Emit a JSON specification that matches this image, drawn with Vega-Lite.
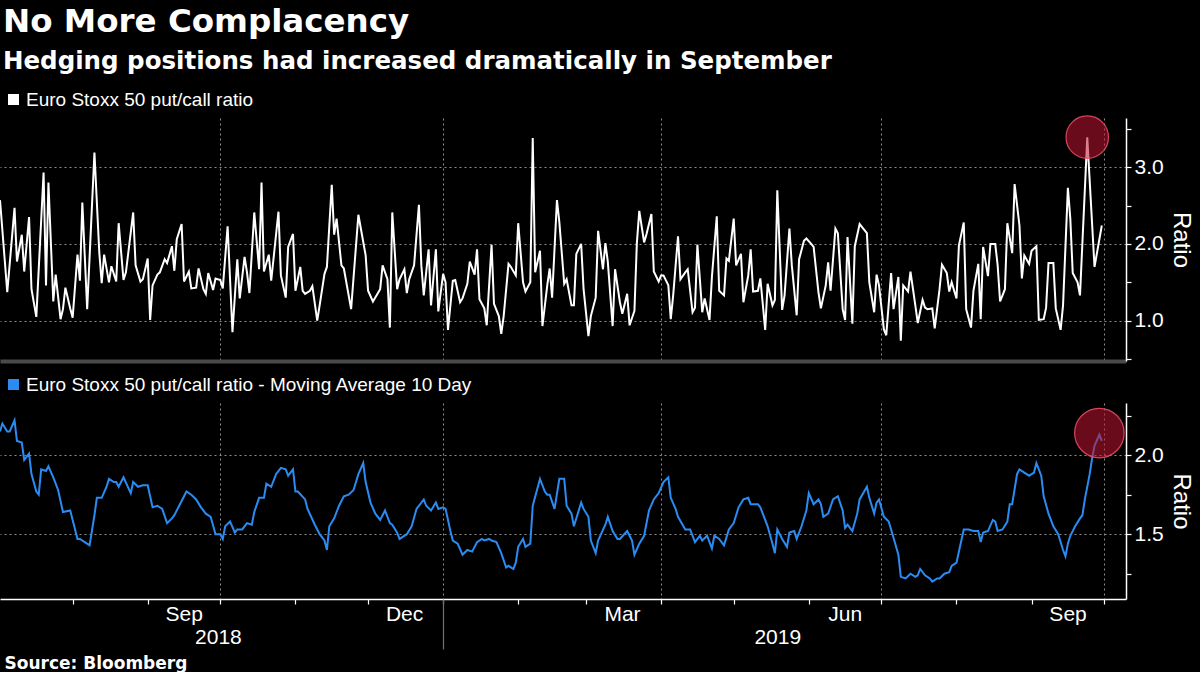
{
"$schema": "https://vega.github.io/schema/vega-lite/v6.json",
"background": "#000000",
"padding": {"left": -4, "right": 7, "top": 6, "bottom": 0},
"title": {"text": "No More Complacency", "subtitle": "Hedging positions had increased dramatically in September", "anchor": "start", "frame": "group", "font": "DejaVu Sans", "fontSize": 32.5, "fontWeight": "bold", "color": "#ffffff", "subtitleFont": "DejaVu Sans", "subtitleFontSize": 24.5, "subtitleFontWeight": "bold", "subtitleColor": "#ffffff", "subtitlePadding": 11, "offset": 17, "dx": 3},
"datasets": {
"pc": [
{"date":"2018-07-02","ratio":2.57},{"date":"2018-07-05","ratio":1.37},{"date":"2018-07-08","ratio":2.47},{"date":"2018-07-09","ratio":1.77},{"date":"2018-07-11","ratio":2.12},{"date":"2018-07-12","ratio":1.64},{"date":"2018-07-14","ratio":2.35},{"date":"2018-07-15","ratio":1.41},{"date":"2018-07-17","ratio":1.05},{"date":"2018-07-20","ratio":2.93},{"date":"2018-07-21","ratio":1.46},{"date":"2018-07-22","ratio":2.80},{"date":"2018-07-24","ratio":1.25},{"date":"2018-07-25","ratio":1.60},{"date":"2018-07-27","ratio":1.02},{"date":"2018-07-28","ratio":1.15},{"date":"2018-07-29","ratio":1.43},{"date":"2018-07-31","ratio":1.16},
{"date":"2018-08-01","ratio":1.04},{"date":"2018-08-03","ratio":1.86},{"date":"2018-08-04","ratio":1.52},{"date":"2018-08-05","ratio":2.54},{"date":"2018-08-07","ratio":1.15},{"date":"2018-08-10","ratio":3.19},{"date":"2018-08-12","ratio":1.89},{"date":"2018-08-13","ratio":1.49},{"date":"2018-08-14","ratio":1.86},{"date":"2018-08-16","ratio":1.50},{"date":"2018-08-17","ratio":1.71},{"date":"2018-08-19","ratio":1.51},{"date":"2018-08-20","ratio":2.27},{"date":"2018-08-22","ratio":1.53},{"date":"2018-08-23","ratio":1.63},{"date":"2018-08-26","ratio":2.41},{"date":"2018-08-27","ratio":1.72},{"date":"2018-08-29","ratio":1.51},{"date":"2018-08-30","ratio":1.54},
{"date":"2018-09-01","ratio":1.81},{"date":"2018-09-02","ratio":1.01},{"date":"2018-09-03","ratio":1.46},{"date":"2018-09-05","ratio":1.60},{"date":"2018-09-06","ratio":1.63},{"date":"2018-09-08","ratio":1.80},{"date":"2018-09-09","ratio":1.75},{"date":"2018-09-11","ratio":1.97},{"date":"2018-09-12","ratio":1.65},{"date":"2018-09-13","ratio":2.06},{"date":"2018-09-15","ratio":2.26},{"date":"2018-09-16","ratio":1.51},{"date":"2018-09-18","ratio":1.64},{"date":"2018-09-19","ratio":1.42},{"date":"2018-09-21","ratio":1.43},{"date":"2018-09-22","ratio":1.68},{"date":"2018-09-24","ratio":1.41},{"date":"2018-09-25","ratio":1.35},{"date":"2018-09-26","ratio":1.62},{"date":"2018-09-28","ratio":1.40},{"date":"2018-09-29","ratio":1.55},
{"date":"2018-10-01","ratio":1.53},{"date":"2018-10-02","ratio":1.42},{"date":"2018-10-04","ratio":2.23},{"date":"2018-10-06","ratio":0.85},{"date":"2018-10-08","ratio":1.80},{"date":"2018-10-09","ratio":1.29},{"date":"2018-10-11","ratio":1.83},{"date":"2018-10-12","ratio":1.63},{"date":"2018-10-13","ratio":1.36},{"date":"2018-10-15","ratio":2.41},{"date":"2018-10-17","ratio":1.67},{"date":"2018-10-18","ratio":2.80},{"date":"2018-10-19","ratio":1.64},{"date":"2018-10-21","ratio":1.86},{"date":"2018-10-22","ratio":1.52},{"date":"2018-10-25","ratio":2.42},{"date":"2018-10-26","ratio":1.59},{"date":"2018-10-28","ratio":1.30},{"date":"2018-10-29","ratio":1.96},{"date":"2018-10-31","ratio":2.13},
{"date":"2018-11-01","ratio":1.39},{"date":"2018-11-03","ratio":1.70},{"date":"2018-11-04","ratio":1.39},{"date":"2018-11-05","ratio":1.35},{"date":"2018-11-07","ratio":1.39},{"date":"2018-11-08","ratio":1.45},{"date":"2018-11-10","ratio":1.00},{"date":"2018-11-11","ratio":1.20},{"date":"2018-11-13","ratio":1.61},{"date":"2018-11-14","ratio":1.70},{"date":"2018-11-16","ratio":2.77},{"date":"2018-11-17","ratio":2.12},{"date":"2018-11-18","ratio":2.33},{"date":"2018-11-20","ratio":1.72},{"date":"2018-11-21","ratio":1.68},{"date":"2018-11-24","ratio":1.15},{"date":"2018-11-27","ratio":2.38},{"date":"2018-11-30","ratio":1.85},
{"date":"2018-12-01","ratio":1.39},{"date":"2018-12-03","ratio":1.25},{"date":"2018-12-06","ratio":1.41},{"date":"2018-12-07","ratio":1.72},{"date":"2018-12-09","ratio":1.54},{"date":"2018-12-10","ratio":0.91},{"date":"2018-12-11","ratio":2.41},{"date":"2018-12-13","ratio":1.41},{"date":"2018-12-14","ratio":1.54},{"date":"2018-12-16","ratio":1.67},{"date":"2018-12-17","ratio":1.36},{"date":"2018-12-18","ratio":1.54},{"date":"2018-12-20","ratio":1.72},{"date":"2018-12-22","ratio":2.51},{"date":"2018-12-23","ratio":1.72},{"date":"2018-12-24","ratio":1.33},{"date":"2018-12-26","ratio":1.93},{"date":"2018-12-27","ratio":1.20},{"date":"2018-12-29","ratio":1.93},{"date":"2018-12-30","ratio":1.12},
{"date":"2019-01-01","ratio":1.61},{"date":"2019-01-02","ratio":1.50},{"date":"2019-01-03","ratio":0.88},{"date":"2019-01-05","ratio":1.52},{"date":"2019-01-06","ratio":1.53},{"date":"2019-01-08","ratio":1.24},{"date":"2019-01-09","ratio":1.29},{"date":"2019-01-11","ratio":1.48},{"date":"2019-01-12","ratio":1.77},{"date":"2019-01-14","ratio":1.60},{"date":"2019-01-15","ratio":1.93},{"date":"2019-01-16","ratio":1.28},{"date":"2019-01-18","ratio":1.16},{"date":"2019-01-19","ratio":0.94},{"date":"2019-01-21","ratio":1.99},{"date":"2019-01-22","ratio":1.22},{"date":"2019-01-24","ratio":1.06},{"date":"2019-01-25","ratio":0.83},{"date":"2019-01-26","ratio":1.06},{"date":"2019-01-28","ratio":1.74},{"date":"2019-01-29","ratio":1.70},{"date":"2019-01-31","ratio":1.59},
{"date":"2019-02-01","ratio":2.27},{"date":"2019-02-03","ratio":1.50},{"date":"2019-02-04","ratio":1.38},{"date":"2019-02-06","ratio":1.50},{"date":"2019-02-07","ratio":3.38},{"date":"2019-02-08","ratio":1.63},{"date":"2019-02-10","ratio":1.91},{"date":"2019-02-11","ratio":0.93},{"date":"2019-02-13","ratio":1.46},{"date":"2019-02-14","ratio":1.68},{"date":"2019-02-15","ratio":1.30},{"date":"2019-02-17","ratio":2.57},{"date":"2019-02-18","ratio":2.28},{"date":"2019-02-20","ratio":1.48},{"date":"2019-02-21","ratio":1.54},{"date":"2019-02-23","ratio":1.20},{"date":"2019-02-24","ratio":1.20},{"date":"2019-02-25","ratio":1.87},{"date":"2019-02-27","ratio":2.00},{"date":"2019-02-28","ratio":1.41},
{"date":"2019-03-02","ratio":0.80},{"date":"2019-03-03","ratio":1.06},{"date":"2019-03-05","ratio":1.30},{"date":"2019-03-06","ratio":2.17},{"date":"2019-03-08","ratio":1.67},{"date":"2019-03-09","ratio":2.01},{"date":"2019-03-10","ratio":1.77},{"date":"2019-03-12","ratio":0.93},{"date":"2019-03-13","ratio":1.67},{"date":"2019-03-15","ratio":1.24},{"date":"2019-03-16","ratio":1.09},{"date":"2019-03-18","ratio":1.35},{"date":"2019-03-19","ratio":0.94},{"date":"2019-03-21","ratio":1.13},{"date":"2019-03-22","ratio":2.01},{"date":"2019-03-23","ratio":2.43},{"date":"2019-03-25","ratio":2.02},{"date":"2019-03-26","ratio":2.13},{"date":"2019-03-28","ratio":2.39},{"date":"2019-03-29","ratio":1.64},{"date":"2019-03-31","ratio":1.51},
{"date":"2019-04-01","ratio":1.59},{"date":"2019-04-02","ratio":1.59},{"date":"2019-04-04","ratio":1.46},{"date":"2019-04-05","ratio":1.02},{"date":"2019-04-06","ratio":1.33},{"date":"2019-04-08","ratio":2.10},{"date":"2019-04-09","ratio":1.54},{"date":"2019-04-11","ratio":1.63},{"date":"2019-04-12","ratio":1.67},{"date":"2019-04-14","ratio":1.11},{"date":"2019-04-15","ratio":1.17},{"date":"2019-04-16","ratio":1.99},{"date":"2019-04-18","ratio":1.11},{"date":"2019-04-19","ratio":1.29},{"date":"2019-04-21","ratio":1.01},{"date":"2019-04-22","ratio":1.57},{"date":"2019-04-24","ratio":2.36},{"date":"2019-04-25","ratio":1.39},{"date":"2019-04-27","ratio":1.33},{"date":"2019-04-28","ratio":1.81},{"date":"2019-04-29","ratio":1.78},
{"date":"2019-05-01","ratio":2.33},{"date":"2019-05-02","ratio":1.72},{"date":"2019-05-04","ratio":1.87},{"date":"2019-05-05","ratio":1.24},{"date":"2019-05-07","ratio":1.59},{"date":"2019-05-08","ratio":1.93},{"date":"2019-05-09","ratio":1.38},{"date":"2019-05-11","ratio":1.39},{"date":"2019-05-12","ratio":1.55},{"date":"2019-05-14","ratio":0.88},{"date":"2019-05-15","ratio":1.48},{"date":"2019-05-17","ratio":1.20},{"date":"2019-05-18","ratio":1.27},{"date":"2019-05-19","ratio":2.70},{"date":"2019-05-21","ratio":1.14},{"date":"2019-05-22","ratio":1.33},{"date":"2019-05-24","ratio":2.20},{"date":"2019-05-25","ratio":1.72},{"date":"2019-05-27","ratio":1.07},{"date":"2019-05-28","ratio":1.80},{"date":"2019-05-30","ratio":2.04},{"date":"2019-05-31","ratio":2.07},
{"date":"2019-06-02","ratio":2.00},{"date":"2019-06-03","ratio":1.96},{"date":"2019-06-05","ratio":1.37},{"date":"2019-06-06","ratio":1.16},{"date":"2019-06-08","ratio":1.46},{"date":"2019-06-09","ratio":1.76},{"date":"2019-06-10","ratio":1.39},{"date":"2019-06-12","ratio":2.20},{"date":"2019-06-13","ratio":2.14},{"date":"2019-06-15","ratio":1.15},{"date":"2019-06-16","ratio":1.01},{"date":"2019-06-17","ratio":2.09},{"date":"2019-06-19","ratio":0.96},{"date":"2019-06-20","ratio":1.97},{"date":"2019-06-22","ratio":2.26},{"date":"2019-06-23","ratio":2.22},{"date":"2019-06-25","ratio":2.14},{"date":"2019-06-26","ratio":1.50},{"date":"2019-06-28","ratio":1.11},{"date":"2019-06-29","ratio":1.60},{"date":"2019-06-30","ratio":1.46},
{"date":"2019-07-02","ratio":0.89},{"date":"2019-07-03","ratio":0.81},{"date":"2019-07-05","ratio":1.62},{"date":"2019-07-06","ratio":1.15},{"date":"2019-07-08","ratio":1.57},{"date":"2019-07-09","ratio":0.74},{"date":"2019-07-10","ratio":1.46},{"date":"2019-07-12","ratio":1.38},{"date":"2019-07-13","ratio":1.64},{"date":"2019-07-15","ratio":1.20},{"date":"2019-07-16","ratio":0.97},{"date":"2019-07-18","ratio":1.27},{"date":"2019-07-19","ratio":1.17},{"date":"2019-07-20","ratio":1.15},{"date":"2019-07-22","ratio":1.16},{"date":"2019-07-23","ratio":0.90},{"date":"2019-07-25","ratio":1.41},{"date":"2019-07-26","ratio":1.73},{"date":"2019-07-28","ratio":1.62},{"date":"2019-07-29","ratio":1.38},{"date":"2019-07-30","ratio":1.50},
{"date":"2019-08-01","ratio":1.29},{"date":"2019-08-02","ratio":1.98},{"date":"2019-08-04","ratio":2.28},{"date":"2019-08-05","ratio":1.15},{"date":"2019-08-07","ratio":0.91},{"date":"2019-08-08","ratio":1.39},{"date":"2019-08-10","ratio":1.74},{"date":"2019-08-11","ratio":1.02},{"date":"2019-08-12","ratio":1.96},{"date":"2019-08-14","ratio":1.58},{"date":"2019-08-15","ratio":2.00},{"date":"2019-08-17","ratio":2.00},{"date":"2019-08-18","ratio":1.72},{"date":"2019-08-19","ratio":1.25},{"date":"2019-08-21","ratio":1.41},{"date":"2019-08-22","ratio":2.27},{"date":"2019-08-24","ratio":1.88},{"date":"2019-08-25","ratio":2.78},{"date":"2019-08-27","ratio":2.24},{"date":"2019-08-28","ratio":1.55},{"date":"2019-08-29","ratio":1.85},{"date":"2019-08-31","ratio":1.74},
{"date":"2019-09-01","ratio":1.91},{"date":"2019-09-03","ratio":1.97},{"date":"2019-09-04","ratio":1.01},{"date":"2019-09-06","ratio":1.02},{"date":"2019-09-07","ratio":1.17},{"date":"2019-09-08","ratio":1.75},{"date":"2019-09-10","ratio":1.75},{"date":"2019-09-11","ratio":1.16},{"date":"2019-09-13","ratio":0.88},{"date":"2019-09-14","ratio":1.20},{"date":"2019-09-16","ratio":2.73},{"date":"2019-09-17","ratio":2.33},{"date":"2019-09-18","ratio":1.62},{"date":"2019-09-20","ratio":1.50},{"date":"2019-09-21","ratio":1.33},{"date":"2019-09-24","ratio":3.39},{"date":"2019-09-27","ratio":1.70},{"date":"2019-09-30","ratio":2.24}
],
"ma": [
{"date":"2018-07-02","ma":2.15},{"date":"2018-07-03","ma":2.20},{"date":"2018-07-05","ma":2.15},{"date":"2018-07-06","ma":2.15},{"date":"2018-07-08","ma":2.22},{"date":"2018-07-09","ma":2.09},{"date":"2018-07-11","ma":2.08},{"date":"2018-07-12","ma":1.97},{"date":"2018-07-14","ma":2.01},{"date":"2018-07-15","ma":1.88},{"date":"2018-07-17","ma":1.77},{"date":"2018-07-18","ma":1.75},{"date":"2018-07-19","ma":1.91},{"date":"2018-07-21","ma":1.90},{"date":"2018-07-22","ma":1.93},{"date":"2018-07-24","ma":1.86},{"date":"2018-07-26","ma":1.78},{"date":"2018-07-28","ma":1.64},{"date":"2018-07-31","ma":1.65},
{"date":"2018-08-01","ma":1.59},{"date":"2018-08-03","ma":1.47},{"date":"2018-08-04","ma":1.47},{"date":"2018-08-06","ma":1.45},{"date":"2018-08-08","ma":1.43},{"date":"2018-08-10","ma":1.62},{"date":"2018-08-11","ma":1.73},{"date":"2018-08-13","ma":1.73},{"date":"2018-08-15","ma":1.80},{"date":"2018-08-16","ma":1.85},{"date":"2018-08-18","ma":1.83},{"date":"2018-08-19","ma":1.83},{"date":"2018-08-20","ma":1.80},{"date":"2018-08-22","ma":1.86},{"date":"2018-08-25","ma":1.76},{"date":"2018-08-26","ma":1.83},{"date":"2018-08-28","ma":1.80},{"date":"2018-08-30","ma":1.81},
{"date":"2018-09-01","ma":1.81},{"date":"2018-09-03","ma":1.67},{"date":"2018-09-05","ma":1.68},{"date":"2018-09-07","ma":1.66},{"date":"2018-09-09","ma":1.57},{"date":"2018-09-11","ma":1.60},{"date":"2018-09-12","ma":1.62},{"date":"2018-09-14","ma":1.68},{"date":"2018-09-17","ma":1.77},{"date":"2018-09-19","ma":1.75},{"date":"2018-09-21","ma":1.72},{"date":"2018-09-23","ma":1.67},{"date":"2018-09-25","ma":1.63},{"date":"2018-09-27","ma":1.61},{"date":"2018-09-29","ma":1.50},
{"date":"2018-10-01","ma":1.50},{"date":"2018-10-02","ma":1.47},{"date":"2018-10-03","ma":1.55},{"date":"2018-10-05","ma":1.58},{"date":"2018-10-07","ma":1.51},{"date":"2018-10-08","ma":1.53},{"date":"2018-10-10","ma":1.53},{"date":"2018-10-12","ma":1.57},{"date":"2018-10-14","ma":1.56},{"date":"2018-10-15","ma":1.64},{"date":"2018-10-17","ma":1.73},{"date":"2018-10-19","ma":1.73},{"date":"2018-10-20","ma":1.82},{"date":"2018-10-22","ma":1.80},{"date":"2018-10-24","ma":1.88},{"date":"2018-10-26","ma":1.92},{"date":"2018-10-28","ma":1.91},{"date":"2018-10-29","ma":1.87},{"date":"2018-10-31","ma":1.91},
{"date":"2018-11-01","ma":1.77},{"date":"2018-11-02","ma":1.77},{"date":"2018-11-05","ma":1.72},{"date":"2018-11-06","ma":1.66},{"date":"2018-11-09","ma":1.56},{"date":"2018-11-11","ma":1.50},{"date":"2018-11-13","ma":1.46},{"date":"2018-11-14","ma":1.40},{"date":"2018-11-15","ma":1.55},{"date":"2018-11-17","ma":1.60},{"date":"2018-11-19","ma":1.68},{"date":"2018-11-21","ma":1.74},{"date":"2018-11-23","ma":1.75},{"date":"2018-11-25","ma":1.78},{"date":"2018-11-27","ma":1.88},{"date":"2018-11-29","ma":1.95},{"date":"2018-11-30","ma":1.83},
{"date":"2018-12-02","ma":1.70},{"date":"2018-12-04","ma":1.63},{"date":"2018-12-06","ma":1.59},{"date":"2018-12-08","ma":1.65},{"date":"2018-12-10","ma":1.57},{"date":"2018-12-11","ma":1.56},{"date":"2018-12-13","ma":1.51},{"date":"2018-12-14","ma":1.47},{"date":"2018-12-17","ma":1.50},{"date":"2018-12-19","ma":1.55},{"date":"2018-12-21","ma":1.66},{"date":"2018-12-24","ma":1.72},{"date":"2018-12-25","ma":1.68},{"date":"2018-12-27","ma":1.65},{"date":"2018-12-29","ma":1.70},{"date":"2018-12-30","ma":1.66},
{"date":"2019-01-01","ma":1.67},{"date":"2019-01-02","ma":1.66},{"date":"2019-01-04","ma":1.52},{"date":"2019-01-05","ma":1.46},{"date":"2019-01-07","ma":1.44},{"date":"2019-01-09","ma":1.37},{"date":"2019-01-11","ma":1.40},{"date":"2019-01-13","ma":1.39},{"date":"2019-01-15","ma":1.45},{"date":"2019-01-17","ma":1.47},{"date":"2019-01-18","ma":1.46},{"date":"2019-01-20","ma":1.47},{"date":"2019-01-21","ma":1.46},{"date":"2019-01-23","ma":1.45},{"date":"2019-01-25","ma":1.38},{"date":"2019-01-27","ma":1.29},{"date":"2019-01-28","ma":1.30},{"date":"2019-01-30","ma":1.28},{"date":"2019-01-31","ma":1.32},
{"date":"2019-02-01","ma":1.42},{"date":"2019-02-03","ma":1.47},{"date":"2019-02-04","ma":1.42},{"date":"2019-02-06","ma":1.44},{"date":"2019-02-07","ma":1.68},{"date":"2019-02-10","ma":1.85},{"date":"2019-02-12","ma":1.77},{"date":"2019-02-13","ma":1.75},{"date":"2019-02-14","ma":1.75},{"date":"2019-02-16","ma":1.66},{"date":"2019-02-18","ma":1.85},{"date":"2019-02-20","ma":1.85},{"date":"2019-02-21","ma":1.68},{"date":"2019-02-23","ma":1.63},{"date":"2019-02-24","ma":1.55},{"date":"2019-02-27","ma":1.70},{"date":"2019-02-28","ma":1.66},
{"date":"2019-03-02","ma":1.61},{"date":"2019-03-03","ma":1.46},{"date":"2019-03-05","ma":1.38},{"date":"2019-03-06","ma":1.46},{"date":"2019-03-09","ma":1.56},{"date":"2019-03-10","ma":1.61},{"date":"2019-03-12","ma":1.52},{"date":"2019-03-14","ma":1.47},{"date":"2019-03-15","ma":1.47},{"date":"2019-03-18","ma":1.52},{"date":"2019-03-20","ma":1.46},{"date":"2019-03-21","ma":1.37},{"date":"2019-03-23","ma":1.44},{"date":"2019-03-25","ma":1.49},{"date":"2019-03-27","ma":1.65},{"date":"2019-03-29","ma":1.72},{"date":"2019-03-31","ma":1.76},
{"date":"2019-04-02","ma":1.83},{"date":"2019-04-04","ma":1.86},{"date":"2019-04-05","ma":1.73},{"date":"2019-04-07","ma":1.66},{"date":"2019-04-08","ma":1.61},{"date":"2019-04-11","ma":1.53},{"date":"2019-04-13","ma":1.53},{"date":"2019-04-15","ma":1.45},{"date":"2019-04-17","ma":1.49},{"date":"2019-04-18","ma":1.46},{"date":"2019-04-20","ma":1.49},{"date":"2019-04-21","ma":1.45},{"date":"2019-04-22","ma":1.41},{"date":"2019-04-23","ma":1.49},{"date":"2019-04-25","ma":1.47},{"date":"2019-04-27","ma":1.43},{"date":"2019-04-29","ma":1.53},
{"date":"2019-05-01","ma":1.57},{"date":"2019-05-03","ma":1.67},{"date":"2019-05-05","ma":1.72},{"date":"2019-05-07","ma":1.73},{"date":"2019-05-08","ma":1.69},{"date":"2019-05-11","ma":1.69},{"date":"2019-05-12","ma":1.67},{"date":"2019-05-15","ma":1.55},{"date":"2019-05-17","ma":1.44},{"date":"2019-05-18","ma":1.38},{"date":"2019-05-19","ma":1.53},{"date":"2019-05-21","ma":1.47},{"date":"2019-05-23","ma":1.42},{"date":"2019-05-24","ma":1.51},{"date":"2019-05-26","ma":1.52},{"date":"2019-05-27","ma":1.47},{"date":"2019-05-29","ma":1.55},{"date":"2019-05-31","ma":1.65},
{"date":"2019-06-01","ma":1.76},{"date":"2019-06-03","ma":1.69},{"date":"2019-06-05","ma":1.72},{"date":"2019-06-06","ma":1.69},{"date":"2019-06-07","ma":1.61},{"date":"2019-06-09","ma":1.63},{"date":"2019-06-11","ma":1.72},{"date":"2019-06-13","ma":1.74},{"date":"2019-06-15","ma":1.65},{"date":"2019-06-16","ma":1.54},{"date":"2019-06-17","ma":1.56},{"date":"2019-06-19","ma":1.52},{"date":"2019-06-21","ma":1.63},{"date":"2019-06-22","ma":1.72},{"date":"2019-06-25","ma":1.80},{"date":"2019-06-26","ma":1.73},{"date":"2019-06-28","ma":1.63},{"date":"2019-06-29","ma":1.70},{"date":"2019-06-30","ma":1.72},
{"date":"2019-07-02","ma":1.61},{"date":"2019-07-04","ma":1.58},{"date":"2019-07-05","ma":1.53},{"date":"2019-07-08","ma":1.37},{"date":"2019-07-09","ma":1.23},{"date":"2019-07-11","ma":1.22},{"date":"2019-07-13","ma":1.25},{"date":"2019-07-15","ma":1.23},{"date":"2019-07-16","ma":1.24},{"date":"2019-07-17","ma":1.28},{"date":"2019-07-19","ma":1.24},{"date":"2019-07-21","ma":1.22},{"date":"2019-07-22","ma":1.20},{"date":"2019-07-24","ma":1.22},{"date":"2019-07-25","ma":1.22},{"date":"2019-07-27","ma":1.25},{"date":"2019-07-29","ma":1.26},{"date":"2019-07-30","ma":1.30},
{"date":"2019-08-01","ma":1.32},{"date":"2019-08-02","ma":1.39},{"date":"2019-08-04","ma":1.53},{"date":"2019-08-06","ma":1.53},{"date":"2019-08-08","ma":1.52},{"date":"2019-08-10","ma":1.52},{"date":"2019-08-11","ma":1.45},{"date":"2019-08-12","ma":1.51},{"date":"2019-08-14","ma":1.52},{"date":"2019-08-16","ma":1.59},{"date":"2019-08-17","ma":1.58},{"date":"2019-08-18","ma":1.52},{"date":"2019-08-20","ma":1.53},{"date":"2019-08-22","ma":1.58},{"date":"2019-08-23","ma":1.69},{"date":"2019-08-24","ma":1.69},{"date":"2019-08-26","ma":1.88},{"date":"2019-08-27","ma":1.91},{"date":"2019-08-29","ma":1.89},{"date":"2019-08-31","ma":1.87},
{"date":"2019-09-02","ma":1.89},{"date":"2019-09-03","ma":1.95},{"date":"2019-09-05","ma":1.87},{"date":"2019-09-06","ma":1.74},{"date":"2019-09-08","ma":1.63},{"date":"2019-09-10","ma":1.55},{"date":"2019-09-12","ma":1.50},{"date":"2019-09-14","ma":1.40},{"date":"2019-09-15","ma":1.36},{"date":"2019-09-16","ma":1.44},{"date":"2019-09-17","ma":1.49},{"date":"2019-09-19","ma":1.55},{"date":"2019-09-21","ma":1.60},{"date":"2019-09-22","ma":1.62},{"date":"2019-09-23","ma":1.72},{"date":"2019-09-25","ma":1.88},{"date":"2019-09-26","ma":1.98},{"date":"2019-09-27","ma":2.06},{"date":"2019-09-29","ma":2.13},{"date":"2019-09-30","ma":2.09}
]
},
"spacing": 14,
"resolve": {"scale": {"color": "independent", "x": "independent", "y": "independent"}, "legend": {"color": "independent"}},
"vconcat": [
{
"width": 1126, "height": 243,
"layer": [
{"data": {"name": "pc"}, "mark": {"type": "line", "strokeWidth": 2},
"encoding": {
"x": {"field": "date", "type": "temporal",
"scale": {"domain": [{"year": 2018, "month": 7, "date": 2, "utc": true}, {"year": 2019, "month": 10, "date": 10, "utc": true}]},
"axis": {"orient": "bottom", "title": null, "labels": false, "ticks": false, "domain": true, "domainColor": "#4a4a4a", "domainWidth": 4,
"values": [{"year": 2018, "month": 10, "date": 1, "utc": true}, {"year": 2019, "month": 1, "date": 1, "utc": true}, {"year": 2019, "month": 4, "date": 1, "utc": true}, {"year": 2019, "month": 7, "date": 1, "utc": true}, {"year": 2019, "month": 10, "date": 1, "utc": true}],
"grid": true, "gridColor": "#8c8c8c", "gridDash": [2, 3], "gridWidth": 1}},
"y": {"field": "ratio", "type": "quantitative", "scale": {"domain": [0.475, 3.64], "nice": false, "zero": false},
"axis": {"orient": "right", "values": [0.5, 1, 1.5, 2, 2.5, 3, 3.5], "labelExpr": "datum.value % 1 === 0 ? format(datum.value, '.1f') : ''",
"grid": true, "gridColor": "#8c8c8c", "gridDash": [2, 3], "gridOpacity": {"condition": {"test": "datum.value % 1 === 0", "value": 1}, "value": 0},
"title": "Ratio"}},
"color": {"datum": "Euro Stoxx 50 put/call ratio", "type": "nominal", "scale": {"range": ["#ffffff"]},
"legend": {"symbolFillColor": "#ffffff"}}
}},
{"data": {"values": [{"date": "2019-09-24", "ratio": 3.39}]},
"mark": {"type": "point", "filled": true, "size": 1800, "fill": "#c0142f", "fillOpacity": 0.55, "stroke": "#f0506a", "strokeOpacity": 0.85, "strokeWidth": 1.2},
"encoding": {"x": {"field": "date", "type": "temporal"}, "y": {"field": "ratio", "type": "quantitative"}}}
]
},
{
"width": 1126, "height": 196,
"resolve": {"axis": {"x": "independent"}},
"layer": [
{"data": {"name": "ma"}, "mark": {"type": "line", "strokeWidth": 2},
"encoding": {
"x": {"field": "date", "type": "temporal",
"scale": {"domain": [{"year": 2018, "month": 7, "date": 2, "utc": true}, {"year": 2019, "month": 10, "date": 10, "utc": true}]},
"axis": {"orient": "bottom", "title": null,
"values": [{"year": 2018, "month": 8, "date": 1, "utc": true}, {"year": 2018, "month": 9, "date": 1, "utc": true}, {"year": 2018, "month": 10, "date": 1, "utc": true}, {"year": 2018, "month": 11, "date": 1, "utc": true}, {"year": 2018, "month": 12, "date": 1, "utc": true}, {"year": 2019, "month": 1, "date": 1, "utc": true}, {"year": 2019, "month": 2, "date": 1, "utc": true}, {"year": 2019, "month": 3, "date": 1, "utc": true}, {"year": 2019, "month": 4, "date": 1, "utc": true}, {"year": 2019, "month": 5, "date": 1, "utc": true}, {"year": 2019, "month": 6, "date": 1, "utc": true}, {"year": 2019, "month": 7, "date": 1, "utc": true}, {"year": 2019, "month": 8, "date": 1, "utc": true}, {"year": 2019, "month": 9, "date": 1, "utc": true}, {"year": 2019, "month": 10, "date": 1, "utc": true}],
"labelExpr": "utcmonth(datum.value) % 3 === 2 ? utcFormat(datum.value, '%b') : ''",
"labelOffset": 36, "labelAlign": "center", "labelPadding": -1, "labelFlush": false, "labelOverlap": false,
"tickSize": 5, "grid": true, "gridColor": "#8c8c8c", "gridDash": [2, 3],
"gridOpacity": {"condition": {"test": "utcmonth(datum.value) % 3 === 0", "value": 1}, "value": 0}}},
"y": {"field": "ma", "type": "quantitative", "scale": {"domain": [1.09, 2.33], "nice": false, "zero": false},
"axis": {"orient": "right", "values": [1.25, 1.5, 1.75, 2, 2.25], "labelExpr": "(datum.value * 2) % 1 === 0 ? format(datum.value, '.1f') : ''",
"grid": true, "gridColor": "#8c8c8c", "gridDash": [2, 3], "gridOpacity": {"condition": {"test": "(datum.value * 2) % 1 === 0", "value": 1}, "value": 0},
"title": "Ratio"}},
"color": {"datum": "Euro Stoxx 50 put/call ratio - Moving Average 10 Day", "type": "nominal", "scale": {"range": ["#2a8cf2"]},
"legend": {"symbolFillColor": "#2a8cf2"}}
}},
{"data": {"values": [{"date": "2019-09-29", "ma": 2.14}]},
"mark": {"type": "point", "filled": true, "size": 2450, "fill": "#c0142f", "fillOpacity": 0.55, "stroke": "#f0506a", "strokeOpacity": 0.85, "strokeWidth": 1.2},
"encoding": {
"x": {"field": "date", "type": "temporal",
"axis": {"orient": "bottom", "domain": false, "grid": false,
"values": [{"year": 2018, "month": 9, "date": 30, "utc": true}, {"year": 2019, "month": 1, "date": 1, "utc": true}, {"year": 2019, "month": 5, "date": 19, "utc": true}],
"labelExpr": "utcmonth(datum.value) === 0 ? '' : utcFormat(datum.value, '%Y')",
"labelFlush": false, "labelOverlap": false, "labelPadding": -23,
"tickSize": 50, "tickColor": "#707070", "tickOpacity": {"condition": {"test": "utcmonth(datum.value) === 0", "value": 1}, "value": 0},
"title": "Source: Bloomberg", "titleAnchor": "start", "titleAlign": "left", "titleFont": "DejaVu Sans", "titleFontWeight": "bold", "titleFontSize": 17, "titlePadding": 6, "titleColor": "#ffffff", "titleX": 4}},
"y": {"field": "ma", "type": "quantitative"}}}
]
}
],
"config": {
"view": {"stroke": null},
"axis": {"labelFont": "Liberation Sans", "labelFontSize": 21, "labelColor": "#ffffff", "tickColor": "#ffffff", "domainColor": "#ffffff", "domainWidth": 1.5, "tickWidth": 1.2,
"titleFont": "Liberation Sans", "titleFontSize": 24, "titleFontWeight": "normal", "titleColor": "#ffffff"},
"axisRight": {"tickSize": 5, "labelPadding": 3, "titlePadding": 5},
"legend": {"orient": "top", "title": null, "symbolType": "square", "symbolSize": 121, "symbolStrokeWidth": 0, "symbolOffset": 4, "labelColor": "#ffffff", "labelFont": "Liberation Sans", "labelFontSize": 19, "labelLimit": 0, "offset": 8, "padding": 0, "labelOffset": 3}
}
}
